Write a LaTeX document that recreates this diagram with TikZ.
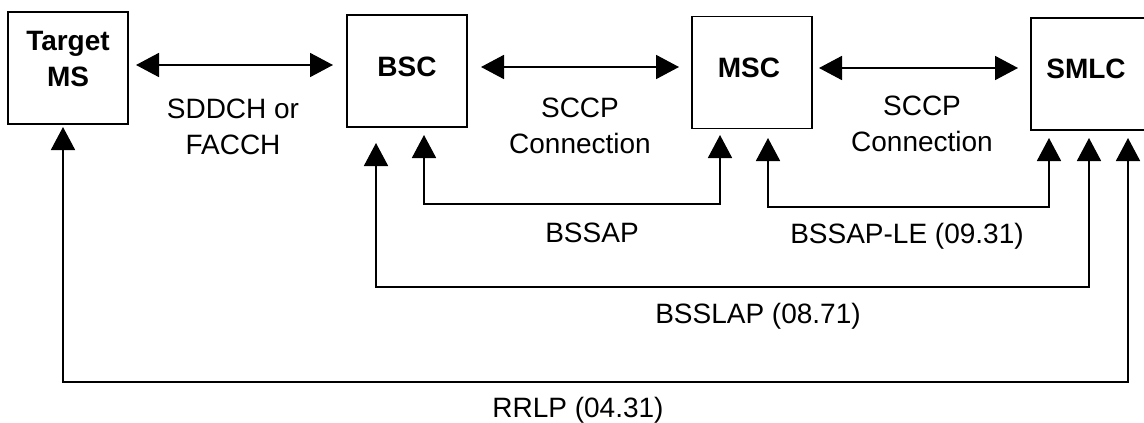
\documentclass[tikz,border=0pt]{standalone}
\usepackage{fontspec}
\setmainfont{Liberation Sans}
\usetikzlibrary{arrows.meta}
\begin{document}
\begin{tikzpicture}[x=1pt,y=-1pt,
  box/.style={draw,line width=1.8pt,rectangle,inner sep=0pt,minimum width=120pt,minimum height=112pt},
  boxtext/.style={font=\fontsize{28}{36}\selectfont\bfseries,align=center,anchor=base,inner sep=0pt},
  lbl/.style={font=\fontsize{28}{36}\selectfont,align=center,anchor=base,inner sep=0pt},
  link/.style={line width=1.8pt,{Triangle[length=23pt,width=24pt]}-{Triangle[length=23pt,width=24pt]}}
]
\useasboundingbox (0,0) rectangle (1144,423);
% boxes
\node[box] (tms)  at (68,68) {};
\node[box] (bsc)  at (407,71) {};
\node[box] (msc)  at (752,72.5) {};
\node[box] (smlc) at (1091,74) {};
% box texts
\node[boxtext] (tmsT) at (68,86) {Target\\MS};
\node[boxtext] (bscT) at (407,76) {BSC};
\node[boxtext] (mscT) at (749,77) {MSC};
\node[boxtext] (smlcT) at (1086,78.5) {SMLC};
% horizontal link end points
\coordinate (a1) at (136,65);  \coordinate (a2) at (333,65);
\coordinate (b1) at (481,67);  \coordinate (b2) at (679,67);
\coordinate (c1) at (819,68);  \coordinate (c2) at (1018,68);
\draw[link] (a1) -- (a2);
\draw[link] (b1) -- (b2);
\draw[link] (c1) -- (c2);
% lower link end points
\coordinate (bssapA) at (424,135);  \coordinate (bssapB) at (720,135);
\coordinate (leA) at (768,138);     \coordinate (leB) at (1049,138);
\coordinate (slapA) at (376,143);   \coordinate (slapB) at (1089,138);
\coordinate (rrlpA) at (63,127);    \coordinate (rrlpB) at (1128,138);
\draw[link] (bssapA) |- (720,204) -- (bssapB);
\draw[link] (leA) |- (1049,207) -- (leB);
\draw[link] (slapA) |- (1089,287) -- (slapB);
\draw[link] (rrlpA) |- (1128,382) -- (rrlpB);
% labels
\node[lbl] (l1) at (233,154) {SDDCH or\\FACCH};
\node[lbl] (l2) at (580,153) {SCCP\\Connection};
\node[lbl] (l3) at (922,151) {SCCP\\Connection};
\node[lbl] (l4) at (592,242) {BSSAP};
\node[lbl] (l5) at (907,243) {BSSAP-LE (09.31)};
\node[lbl] (l6) at (758,323) {BSSLAP (08.71)};
\node[lbl] (l7) at (578,417) {RRLP (04.31)};
\end{tikzpicture}
\end{document}
